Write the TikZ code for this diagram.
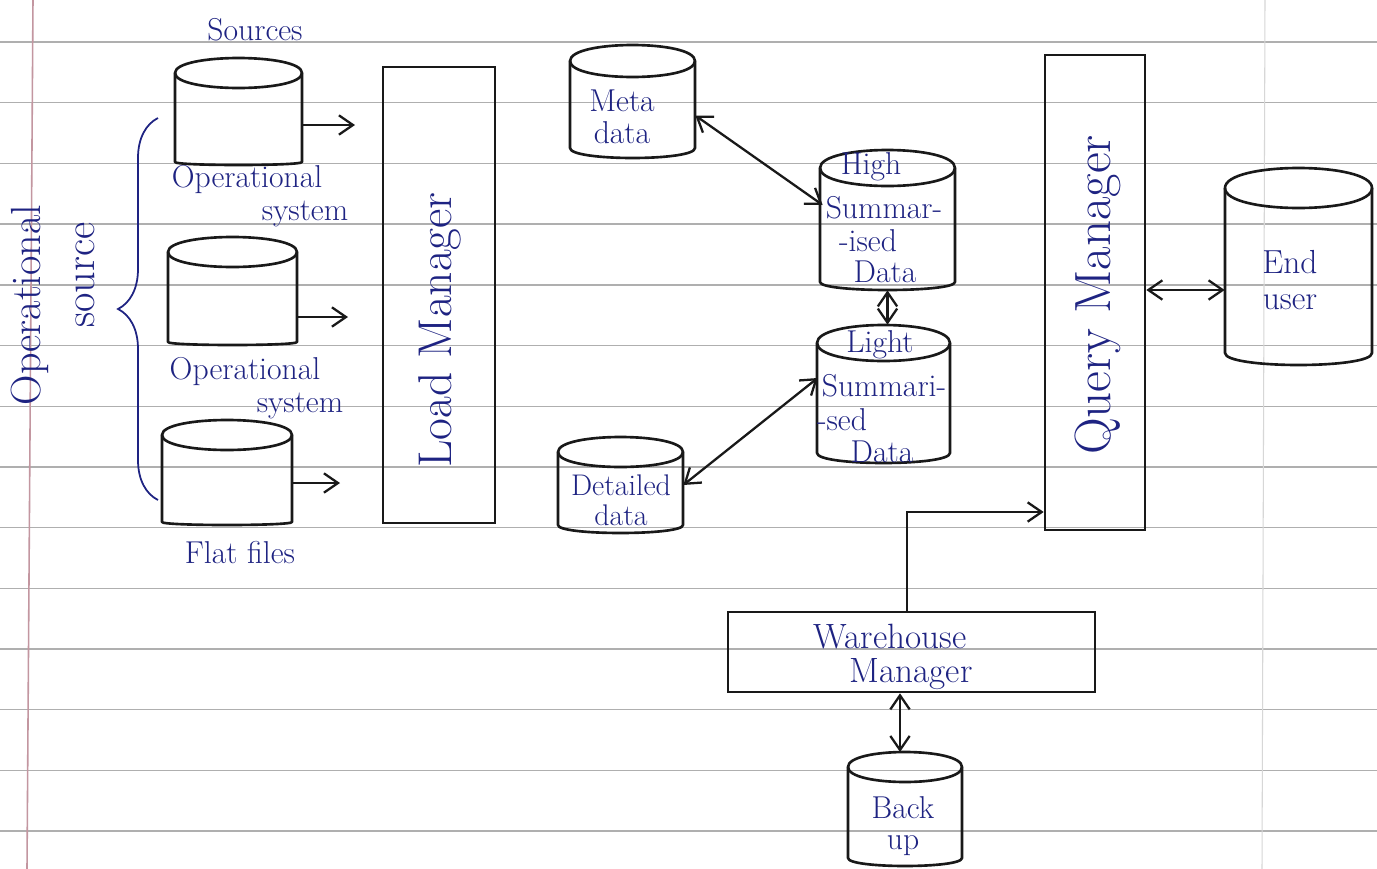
\documentclass[tikz,border=0pt]{standalone}
\usetikzlibrary{arrows.meta,decorations.pathreplacing,fit,calc}
\definecolor{ink}{RGB}{25,25,25}
\definecolor{pen}{RGB}{30,35,130}
\definecolor{ruleline}{RGB}{175,175,175}
\definecolor{marginline}{RGB}{195,150,160}
% name, L, T, R, B, top ry, bottom ry
\newcommand\cylshape[7]{%
  \coordinate (#1-nw) at (#2,#3);
  \coordinate (#1-se) at (#4,#5);
  \node[fit=(#1-nw)(#1-se), inner sep=0pt] (#1) {};
  \draw[boxline] ({#2},{#3+#6}) .. controls ({#2},{#3-0.3333*#6}) and ({#4},{#3-0.3333*#6}) .. ({#4},{#3+#6})
     -- ({#4},{#5-#7}) .. controls ({#4},{#5+0.3333*#7}) and ({#2},{#5+0.3333*#7}) .. ({#2},{#5-#7}) -- cycle;
  \draw[boxline] ({#2},{#3+#6}) .. controls ({#2},{#3+2.3333*#6}) and ({#4},{#3+2.3333*#6}) .. ({#4},{#3+#6});
}
\tikzset{
  boxline/.style={draw=ink, line width=1.5pt, line join=round},
  mgr/.style={draw=ink, line width=1.5pt, inner sep=0pt},
  lbl/.style={text=pen, font=\fontsize{18}{19}\selectfont, inner sep=0pt, align=center},
  biglbl/.style={text=pen, font=\fontsize{27}{30}\selectfont, inner sep=0pt, rotate=90},
  arr/.style={draw=ink, line width=1.3pt, -{Straight Barb[length=8pt,width=11pt]}},
  darr/.style={draw=ink, line width=1.3pt, {Straight Barb[length=8pt,width=11pt]}-{Straight Barb[length=8pt,width=11pt]}},
  paper/.style={draw=ruleline, line width=0.8pt},
}
\begin{document}
\begin{tikzpicture}[x=0.02cm, y=-0.02cm]
\useasboundingbox (0,0) rectangle (1377,869);
\fill[white] (0,0) rectangle (1377,869);
% ruled paper
\foreach \k in {0,...,13} {
  \draw[paper] (0,{42+60.7*\k}) -- (1377,{42+60.7*\k});
}
\draw[marginline, line width=0.9pt] (33,0) -- (27,869);
\draw[ruleline!50, line width=0.6pt] (1265,0) -- (1262,869);

% source cylinders
\cylshape{os1}{175}{58}{302}{165}{15}{3}
\cylshape{os2}{168}{237}{297}{345}{15}{3}
\cylshape{flat}{162}{420}{292}{525}{15}{3}
\node[lbl] (src) at (255,30) {Sources};
\node[lbl] (os1a) at (247,180) {Operational};
\node[lbl] (os1b) at (305,214) {system};
\node[lbl] (os2a) at (245,372) {Operational};
\node[lbl] (os2b) at (300,406) {system};
\node[lbl] (ffl) at (240,553) {Flat files};

\coordinate (a1) at (355,125);
\coordinate (a2) at (348,317);
\coordinate (a3) at (340,483);
\draw[arr] (os1.east |- a1) -- (a1);
\draw[arr] (os2.east |- a2) -- (a2);
\draw[arr] (flat.east |- a3) -- (a3);

% brace and label
\draw[pen, line width=1pt, decorate, decoration={brace, amplitude=0.8cm}] (158,500) -- (158,118);
\node[text=pen, font=\fontsize{24}{26}\selectfont, inner sep=0pt, rotate=90] (opsa) at (30,305) {Operational};
\node[text=pen, font=\fontsize{24}{26}\selectfont, inner sep=0pt, rotate=90] (opsb) at (85,275) {source};

% load manager
\coordinate (lm-nw) at (383,67);
\coordinate (lm-se) at (495,523);
\node[mgr, fit=(lm-nw)(lm-se)] (lm) {};
\node[biglbl] (lmt) at (440,330) {Load Manager};

% warehouse storage
\cylshape{meta}{570}{45}{695}{158}{16}{10}
\node[lbl] (metat) at (622,117) {Meta\\[-1pt]data};

\cylshape{high}{820}{150}{955}{290}{18}{8}
\node[lbl] (hi1) at (871,167) {High};
\node[lbl] (hi2) at (884,208) {Summar-};
\node[lbl] (hi3) at (868,241) {-ised};
\node[lbl] (hi4) at (885,272) {Data};

\cylshape{light}{817}{325}{950}{463}{18}{10}
\node[lbl] (li1) at (880,345) {Light};
\node[lbl] (li2) at (884,386) {Summari-};
\node[lbl] (li3) at (842,420) {-sed};
\node[lbl] (li4) at (882,452) {Data};

\cylshape{det}{558}{437}{683}{533}{15}{8}
\node[lbl, font=\fontsize{17}{18}\selectfont] (dett) at (621,500) {Detailed\\[-1pt]data};

\draw[darr] ($(meta.east)+(0,14)$) -- ($(high.west)+(3,-15)$);
\draw[darr] (high.south) -- (high.south |- light.north);
\draw[darr] (det.east) -- ($(light.west)+(1,-16)$);

% query manager
\coordinate (qm-nw) at (1045,55);
\coordinate (qm-se) at (1145,530);
\node[mgr, fit=(qm-nw)(qm-se)] (qm) {};
\node[text=pen, font=\fontsize{29}{32}\selectfont, inner sep=0pt, rotate=90] (qmt) at (1098,295) {Query Manager};

% end user
\cylshape{eu}{1225}{168}{1372}{365}{20}{12}
\node[lbl, font=\fontsize{19}{21}\selectfont] (eut) at (1290,280) {End\\[-1pt]user};
\coordinate (qe) at (1185,290);
\draw[darr] (qe -| qm.east) -- (qe -| eu.west);

% warehouse manager
\coordinate (wm-nw) at (728,612);
\coordinate (wm-se) at (1095,692);
\node[mgr, fit=(wm-nw)(wm-se)] (wm) {};
\node[lbl, font=\fontsize{20}{22}\selectfont] (wmt) at (890,657) {Warehouse\\[-3pt]\hspace*{1.2em}Manager};
\coordinate (wq) at (907,512);
\draw[arr] (wm.north -| wq) -- (wq) -- (wq -| qm.west);

% backup
\cylshape{bk}{848}{752}{962}{866}{15}{8}
\node[lbl] (bkt) at (903,826) {Back\\[-1pt]up};
\draw[darr] (wm.south -| 900,0) -- (900,752);
\end{tikzpicture}
\end{document}
